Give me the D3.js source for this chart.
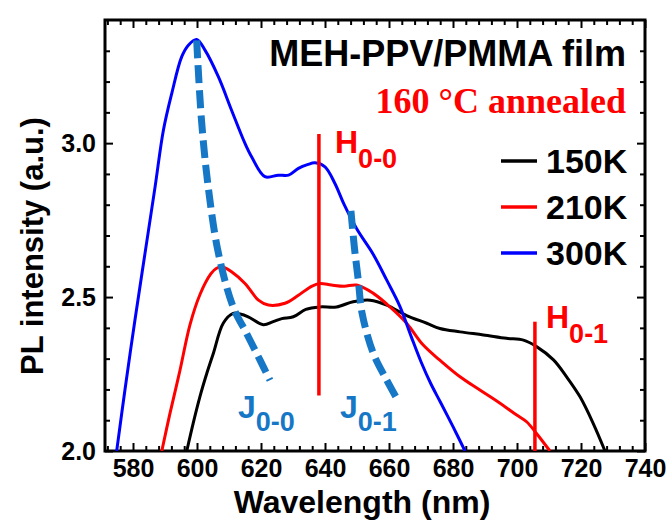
<!DOCTYPE html>
<html>
<head>
<meta charset="utf-8">
<script src="https://cdn.jsdelivr.net/npm/d3@7"></script>
<style>
  body { margin: 0; background: #fff; }
  svg { display: block; }
  .tick text { font-family: "Liberation Sans", Arial, sans-serif; font-weight: bold; font-size: 25px; fill: #000; }
  .tick line { stroke: #000; stroke-width: 2; }
</style>
</head>
<body>
<div id="chart"></div>
<script>
// spectra (wavelength in nm, PL intensity in a.u.)
const wl150 = [596.8, 598.8, 600.9, 603, 605.1, 608.2, 611.3, 613.5, 616, 620.7, 623.8, 626.5, 630.1, 634, 638.4, 643.6, 648.8, 654.1, 659.3, 665.5, 671.8, 675.9, 682.2, 689.5, 696.7, 702, 706.1, 711.4, 715.5, 719.7, 723.8, 727.5];
const pl150 = [2.0, 2.09, 2.176, 2.25, 2.317, 2.415, 2.447, 2.445, 2.436, 2.41, 2.42, 2.43, 2.436, 2.46, 2.468, 2.468, 2.485, 2.49, 2.474, 2.44, 2.415, 2.398, 2.387, 2.377, 2.366, 2.36, 2.339, 2.296, 2.241, 2.176, 2.09, 2.0];

const wl210 = [589, 591.5, 594.7, 597.8, 601, 604.3, 606, 608, 610.8, 615, 619.2, 622.3, 627.5, 631.7, 635.8, 638.4, 642, 646, 649.9, 655.1, 660.3, 665.5, 670.7, 675.9, 682.2, 688.4, 694.7, 699.9, 703, 706.1, 710.3];
const pl210 = [2.0, 2.12, 2.263, 2.41, 2.51, 2.575, 2.593, 2.598, 2.582, 2.544, 2.49, 2.474, 2.48, 2.506, 2.535, 2.544, 2.539, 2.535, 2.539, 2.512, 2.468, 2.415, 2.344, 2.295, 2.241, 2.198, 2.155, 2.117, 2.095, 2.057, 2.0];

const wl300 = [574.9, 577.5, 580.6, 583.75, 586.9, 589.5, 592.1, 595.2, 597.3, 599.9, 602.5, 606.7, 610.8, 615.0, 617.1, 621.25, 625.4, 628.6, 631.7, 634.5, 636.9, 640, 643.1, 646, 650, 655, 659.3, 663.4, 667, 670, 673, 676, 680, 683.75];
const pl300 = [2.0, 2.2, 2.425, 2.642, 2.858, 3.042, 3.161, 3.28, 3.318, 3.337, 3.302, 3.215, 3.107, 2.999, 2.955, 2.891, 2.896, 2.896, 2.918, 2.93, 2.936, 2.923, 2.869, 2.80, 2.72, 2.64, 2.555, 2.47, 2.37, 2.29, 2.22, 2.16, 2.079, 2.0];

// guide curves for the J-aggregate peaks
const wlJ00 = [599.9, 601.4, 603.5, 606.7, 611.3, 615.5, 619.7, 622.8];
const plJ00 = [3.334, 3.075, 2.858, 2.642, 2.468, 2.382, 2.295, 2.23];
const wlJ01 = [648.1, 649.2, 650.4, 651.6, 655.1, 659.3, 663];
const plJ01 = [2.78, 2.66, 2.555, 2.447, 2.317, 2.23, 2.16];

// H-aggregate markers: position, bottom, top
const hLines = [
  { name: "0-0", wl: 638.1, lo: 2.18, hi: 3.03 },
  { name: "0-1", wl: 705.6, lo: 2.0, hi: 2.42 }
];

const seriesNames = ["150K", "210K", "300K"];
const seriesColors = ["#000000", "#ff0000", "#0000ff"];

const xMajor = [580, 600, 620, 640, 660, 680, 700, 720, 740];
const yMajor = [2.0, 2.5, 3.0];

const width = 670,
  height = 530,
  margin = { top: 20, bottom: 79, left: 105, right: 25 };

const jColor = "#1577c6";
const font = "'Liberation Sans', Arial, sans-serif";

const svg = d3.select("#chart")
  .append("svg")
  .attr("width", width)
  .attr("height", height);

const xScale = d3.scaleLinear()
  .domain([571.25, 740])
  .range([margin.left, width - margin.right]);

const yScale = d3.scaleLinear()
  .domain([2.0, 3.4])
  .range([height - margin.bottom, margin.top]);

const xMinor = d3.range(572, 741, 4).filter(v => !xMajor.includes(v));
const yMinor = d3.range(21, 34).map(v => v / 10).filter(v => !yMajor.includes(v));

const bottom = height - margin.bottom;
const right = width - margin.right;

// ticks point inside on all four sides
svg.append("g").attr("class", "axis x-axis")
  .attr("transform", `translate(0,${bottom})`)
  .call(d3.axisBottom(xScale).tickValues(xMajor).tickSize(-8).tickSizeOuter(0).tickPadding(8).tickFormat(d3.format("d")));
svg.append("g").attr("class", "axis")
  .attr("transform", `translate(0,${bottom})`)
  .call(d3.axisBottom(xScale).tickValues(xMinor).tickSize(-5).tickSizeOuter(0).tickFormat(""));
svg.append("g").attr("class", "axis")
  .attr("transform", `translate(0,${margin.top})`)
  .call(d3.axisTop(xScale).tickValues(xMajor).tickSize(-8).tickSizeOuter(0).tickFormat(""));
svg.append("g").attr("class", "axis")
  .attr("transform", `translate(0,${margin.top})`)
  .call(d3.axisTop(xScale).tickValues(xMinor).tickSize(-5).tickSizeOuter(0).tickFormat(""));

svg.append("g").attr("class", "axis y-axis")
  .attr("transform", `translate(${margin.left},0)`)
  .call(d3.axisLeft(yScale).tickValues(yMajor).tickSize(-8).tickSizeOuter(0).tickPadding(9).tickFormat(d3.format(".1f")));
svg.append("g").attr("class", "axis")
  .attr("transform", `translate(${margin.left},0)`)
  .call(d3.axisLeft(yScale).tickValues(yMinor).tickSize(-5).tickSizeOuter(0).tickFormat(""));
svg.append("g").attr("class", "axis")
  .attr("transform", `translate(${right},0)`)
  .call(d3.axisRight(yScale).tickValues(yMajor).tickSize(-8).tickSizeOuter(0).tickFormat(""));
svg.append("g").attr("class", "axis")
  .attr("transform", `translate(${right},0)`)
  .call(d3.axisRight(yScale).tickValues(yMinor).tickSize(-5).tickSizeOuter(0).tickFormat(""));

svg.selectAll(".axis .domain").remove();

svg.append("rect")
  .attr("x", margin.left)
  .attr("y", margin.top)
  .attr("width", right - margin.left)
  .attr("height", bottom - margin.top)
  .attr("fill", "none")
  .attr("stroke", "#000")
  .attr("stroke-width", 3);

svg.append("clipPath").attr("id", "plot-clip")
  .append("rect")
  .attr("x", margin.left)
  .attr("y", margin.top)
  .attr("width", right - margin.left)
  .attr("height", bottom - margin.top);

const line = d3.line()
  .x(d => xScale(d[0]))
  .y(d => yScale(d[1]))
  .curve(d3.curveCatmullRom);

const plot = svg.append("g").attr("clip-path", "url(#plot-clip)");

const spectra = [
  { name: seriesNames[0], color: seriesColors[0], pts: d3.zip(wl150, pl150) },
  { name: seriesNames[1], color: seriesColors[1], pts: d3.zip(wl210, pl210) },
  { name: seriesNames[2], color: seriesColors[2], pts: d3.zip(wl300, pl300) }
];

plot.selectAll(".spectrum")
  .data(spectra)
  .join("path")
  .attr("class", "spectrum")
  .attr("fill", "none")
  .attr("stroke", d => d.color)
  .attr("stroke-width", 3)
  .attr("stroke-linejoin", "round")
  .attr("d", d => line(d.pts));

// dashed J guides
plot.selectAll(".jguide")
  .data([d3.zip(wlJ00, plJ00), d3.zip(wlJ01, plJ01)])
  .join("path")
  .attr("class", "jguide")
  .attr("fill", "none")
  .attr("stroke", jColor)
  .attr("stroke-width", 7)
  .attr("stroke-dasharray", "18,7")
  .attr("d", d => line(d));

// red H markers
plot.selectAll(".hline")
  .data(hLines)
  .join("line")
  .attr("class", "hline")
  .attr("x1", d => xScale(d.wl))
  .attr("x2", d => xScale(d.wl))
  .attr("y1", d => yScale(d.lo))
  .attr("y2", d => yScale(d.hi))
  .attr("stroke", "#ff0000")
  .attr("stroke-width", 3.5);

function subLabel(x, y, main, sub, color, dy) {
  const t = svg.append("text")
    .attr("x", x)
    .attr("y", y)
    .attr("fill", color)
    .attr("font-family", font)
    .attr("font-weight", "bold")
    .attr("font-size", 32);
  t.append("tspan").text(main);
  t.append("tspan").attr("dy", dy).attr("font-size", 27).text(sub);
}

subLabel(335, 153, "H", "0-0", "#ff0000", 15);
subLabel(546, 328, "H", "0-1", "#ff0000", 15);
subLabel(238, 418, "J", "0-0", jColor, 13);
subLabel(340, 418, "J", "0-1", jColor, 13);

// titles in the corner
svg.append("text")
  .attr("x", 626)
  .attr("y", 66)
  .attr("text-anchor", "end")
  .attr("font-family", font)
  .attr("font-weight", "bold")
  .attr("font-size", 36)
  .text("MEH-PPV/PMMA film");

svg.append("text")
  .attr("x", 626)
  .attr("y", 113)
  .attr("text-anchor", "end")
  .attr("fill", "#ff0000")
  .attr("font-family", "'Liberation Serif', 'Times New Roman', serif")
  .attr("font-weight", "bold")
  .attr("font-size", 36)
  .text("160 °C annealed");

// legend
const legend = svg.append("g").attr("class", "legend");
const legendY = [161, 207, 253];
spectra.forEach((s, i) => {
  legend.append("line")
    .attr("x1", 501).attr("x2", 537)
    .attr("y1", legendY[i]).attr("y2", legendY[i])
    .attr("stroke", s.color)
    .attr("stroke-width", 3.5);
  legend.append("text")
    .attr("x", 546)
    .attr("y", legendY[i] + 12)
    .attr("font-family", font)
    .attr("font-weight", "bold")
    .attr("font-size", 34)
    .text(s.name);
});

// axis titles
svg.append("text")
  .attr("x", 362)
  .attr("y", 513)
  .attr("text-anchor", "middle")
  .attr("font-family", font)
  .attr("font-weight", "bold")
  .attr("font-size", 32)
  .text("Wavelength (nm)");

svg.append("text")
  .attr("transform", `translate(43,246) rotate(-90)`)
  .attr("text-anchor", "middle")
  .attr("font-family", font)
  .attr("font-weight", "bold")
  .attr("font-size", 31)
  .text("PL intensity (a.u.)");
</script>
</body>
</html>
